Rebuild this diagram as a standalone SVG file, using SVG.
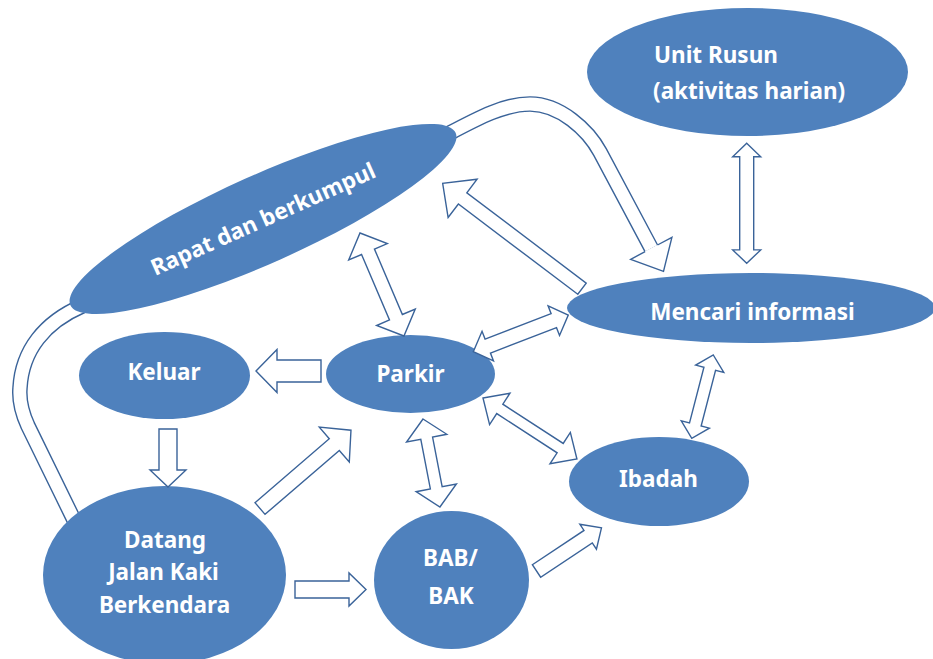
<svg xmlns="http://www.w3.org/2000/svg" width="933" height="659" viewBox="0 0 933 659">
<style>
.node{fill:#4F81BD;}
.lbl{font-family:"Noto Sans","Open Sans","Liberation Sans",sans-serif;font-weight:bold;font-size:22.5px;fill:#FFFFFF;text-anchor:middle;}
.lbl.start{text-anchor:start;}
.arr{fill:#FFFFFF;stroke:#3A6399;stroke-width:1.4;stroke-linejoin:miter;}
.bandO{fill:none;stroke:#3A6399;stroke-width:15.6;}
.bandI{fill:none;stroke:#FFFFFF;stroke-width:12.8;}
</style>
<rect width="933" height="659" fill="#FFFFFF"/>
<g id="connectors-curved">
  <path class="bandO" d="M 448 134 C 480 117, 505 104, 530 104 C 560 104, 588 130, 600 152 L 651.3 248.3"/>
  <path class="bandI" d="M 448 134 C 480 117, 505 104, 530 104 C 560 104, 588 130, 600 152 L 651.3 248.3"/>
  <path class="arr" d="M 657.5 245 L 671.9 237.3 L 663.5 271.3 L 630.7 259.3 L 645.1 251.6"/>
  <path class="bandO" d="M 74 520 L 28 426 C 22 413, 19 400, 20 388 C 22 350, 45 322, 82 306"/>
  <path class="bandI" d="M 74 520 L 28 426 C 22 413, 19 400, 20 388 C 22 350, 45 322, 82 306"/>
</g>
<g id="node-unit-rusun">
  <ellipse class="node" cx="747.5" cy="72" rx="160.5" ry="64"/>
  <text class="lbl start" x="654" y="63">Unit Rusun</text>
  <text class="lbl start" x="653" y="99">(aktivitas harian)</text>
</g>
<g id="node-rapat">
  <ellipse class="node" cx="263" cy="219" rx="211" ry="44" transform="rotate(-24.1 263 219)"/>
  <text class="lbl" x="0" y="8" transform="translate(263 219) rotate(-24.1)">Rapat dan berkumpul</text>
</g>
<g id="node-mencari">
  <ellipse class="node" cx="751" cy="308" rx="184" ry="35"/>
  <text class="lbl" x="752.5" y="320">Mencari informasi</text>
</g>
<g id="node-keluar">
  <ellipse class="node" cx="164.5" cy="375.5" rx="85.5" ry="43.5"/>
  <text class="lbl" x="164" y="380">Keluar</text>
</g>
<g id="node-parkir">
  <ellipse class="node" cx="410.5" cy="374" rx="84.5" ry="39"/>
  <text class="lbl" x="410.5" y="382">Parkir</text>
</g>
<g id="node-ibadah">
  <ellipse class="node" cx="659" cy="481.5" rx="90" ry="44.5"/>
  <text class="lbl" x="658.5" y="487">Ibadah</text>
</g>
<g id="node-bab">
  <ellipse class="node" cx="451.5" cy="580" rx="77.5" ry="69"/>
  <text class="lbl" x="450.5" y="566">BAB/</text>
  <text class="lbl" x="451" y="604">BAK</text>
</g>
<g id="node-datang">
  <ellipse class="node" cx="164.5" cy="575" rx="121.5" ry="89"/>
  <text class="lbl" x="165" y="548">Datang</text>
  <text class="lbl" x="163.5" y="580">Jalan Kaki</text>
  <text class="lbl" x="164.5" y="613">Berkendara</text>
</g>
<g id="connectors">
  <polygon class="arr" points="0,-11 44,-11 44,-21.5 65,0 44,21.5 44,11 0,11" transform="translate(321 371) rotate(180)"/>
  <polygon class="arr" points="0,-9 41,-9 41,-18 58,0 41,18 41,9 0,9" transform="translate(168 429) rotate(90)"/>
  <polygon class="arr" points="0,-8.5 54,-8.5 54,-16.5 71,0 54,16.5 54,8.5 0,8.5" transform="translate(295 589.5)"/>
  <polygon class="arr" points="0,-7.7 98,-7.7 98,-23 120,0 98,23 98,7.7 0,7.7" transform="translate(260 508.5) rotate(-40.7)"/>
  <polygon class="arr" points="0,-7.5 62,-7.5 62,-15 78,0 62,15 62,7.5 0,7.5" transform="translate(536.5 571) rotate(-33.6)"/>
  <polygon class="arr" points="0,-7 149.7,-7 149.7,-24 174.7,0 149.7,24 149.7,7 0,7" transform="translate(582 288.7) rotate(217.1)"/>
  <polygon class="arr" points="0,0 19.5,-20.5 19.5,-6 70.1,-6 70.1,-20.5 89.6,0 70.1,20.5 70.1,6 19.5,6 19.5,20.5" transform="translate(423 419) rotate(79.1)"/>
  <polygon class="arr" points="0,0 20,-18.7 20,-5.6 92,-5.6 92,-18.7 112,0 92,18.7 92,5.6 20,5.6 20,18.7" transform="translate(483 398) rotate(33)"/>
  <polygon class="arr" points="0,0 20.4,-21 20.4,-7 91.6,-7 91.6,-21 112,0 91.6,21 91.6,7 20.4,7 20.4,21" transform="translate(360 233) rotate(66.9)"/>
  <polygon class="arr" points="0,0 15.5,-15.9 15.5,-7.5 86.3,-7.5 86.3,-15.9 101.8,0 86.3,15.9 86.3,7.5 15.5,7.5 15.5,15.9" transform="translate(473.3 351.7) rotate(-21.1)"/>
  <polygon class="arr" points="0,0 13.4,-14 13.4,-7 106.6,-7 106.6,-14 120,0 106.6,14 106.6,7 13.4,7 13.4,14" transform="translate(746.7 143.3) rotate(90)"/>
  <polygon class="arr" points="0,0 14.2,-14.5 14.2,-6 71.8,-6 71.8,-14.5 86,0 71.8,14.5 71.8,6 14.2,6 14.2,14.5" transform="translate(713.3 355) rotate(104.5)"/>
</g>
</svg>
